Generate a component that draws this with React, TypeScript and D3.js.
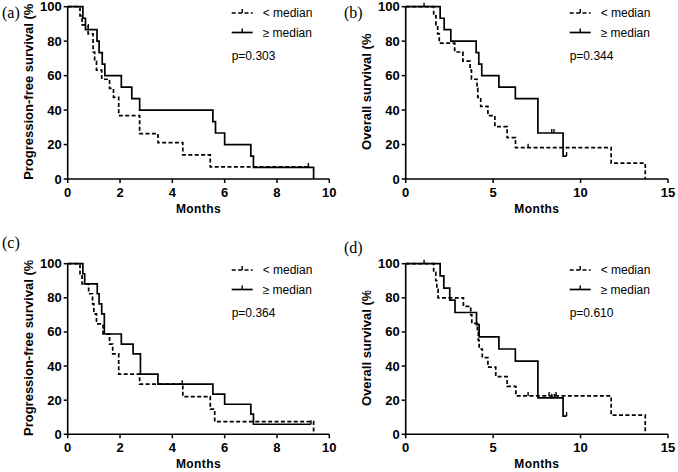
import React from "react";
import * as d3 from "d3";

// ---- Data: [months, survival % after the step] ----
const aBelow: [number, number][] = [[0,100],[0.47,94.7],[0.55,89.5],[0.78,84.2],[0.97,73.7],[1.03,68.4],[1.1,63.2],[1.3,57.9],[1.6,52.6],[1.75,47.4],[1.95,36.8],[2.75,26.3],[3.45,21.1],[4.4,14.0],[5.45,7.0],[9.2,7.0]];
const aAbove: [number, number][] = [[0,100],[0.58,93.3],[0.68,86.7],[1.12,80],[1.2,73.3],[1.32,66.7],[1.42,60],[2.05,53.3],[2.45,46.7],[2.75,40],[5.55,33.3],[5.65,26.7],[6.0,20],[7.0,13.3],[7.1,6.7],[9.4,0]];
const aBelowCensor: number[] = [9.2];
const aAboveCensor: number[] = [];

const bBelow: [number, number][] = [[0,100],[1.6,94.7],[1.73,89.5],[1.83,84.2],[1.92,78.9],[2.8,73.7],[3.27,68.4],[3.68,63.2],[3.76,57.9],[4.08,52.6],[4.12,47.4],[4.29,42.1],[4.7,36.8],[5.1,30.4],[5.8,24.0],[6.28,18.2],[11.75,9.2],[13.7,0]];
const bAbove: [number, number][] = [[0,100],[1.97,93.3],[2.2,86.7],[2.58,80],[4.03,73.3],[4.18,66.7],[4.35,60],[5.33,53.3],[6.27,46.7],[7.56,26.7],[9.0,13.3],[9.2,13.3]];
const bBelowCensor: number[] = [7.0];
const bAboveCensor: number[] = [1.05, 8.35, 8.48, 9.2];

const cBelow: [number, number][] = [[0,100],[0.47,94.1],[0.55,88.2],[0.8,82.4],[0.95,76.5],[1.0,70.6],[1.1,64.7],[1.35,58.8],[1.6,52.9],[1.72,47.1],[1.95,35.3],[2.75,29.4],[4.4,22.1],[5.45,14.7],[5.62,7.4],[9.4,0]];
const cAbove: [number, number][] = [[0,100],[0.58,94.1],[0.65,88.2],[1.13,82.4],[1.2,76.5],[1.3,70.6],[1.4,58.8],[2.05,52.9],[2.5,47.1],[2.78,35.3],[3.45,29.4],[5.55,23.5],[6.0,17.6],[7.0,11.8],[7.1,5.9],[9.3,5.9]];
const cBelowCensor: number[] = [4.38];
const cAboveCensor: number[] = [9.3];

const dBelow: [number, number][] = [[0,100],[1.6,95],[1.72,90],[1.78,85],[1.85,80],[3.3,75],[3.72,70],[3.78,65],[4.1,60],[4.15,55],[4.2,50],[4.38,45],[4.7,39.4],[5.15,33.8],[5.8,28.1],[6.3,22.5],[11.75,11.2],[13.7,0]];
const dAbove: [number, number][] = [[0,100],[1.97,92.9],[2.18,85.7],[2.52,78.6],[2.82,71.4],[4.05,64.3],[4.2,57.1],[5.33,50],[6.27,42.9],[7.56,21.4],[9.0,10.7],[9.2,10.7]];
const dBelowCensor: number[] = [7.0, 8.2, 8.6];
const dAboveCensor: number[] = [1.05, 8.35, 8.5, 9.2];

const panelLabels = ["(a)", "(b)", "(c)", "(d)"];
const yTitles = ["Progression-free survival (%)", "Overall survival (%)", "Progression-free survival (%)", "Overall survival (%)"];
const pValues = ["p=0.303", "p=0.344", "p=0.364", "p=0.610"];
const xMaxes = [10, 15, 10, 15];
const xTickSets = [[0, 2, 4, 6, 8, 10], [0, 5, 10, 15], [0, 2, 4, 6, 8, 10], [0, 5, 10, 15]];
const yTicks = [0, 20, 40, 60, 80, 100];
const legendLabels = ["< median", "\u2265 median"];

const seriesBelow = [aBelow, bBelow, cBelow, dBelow];
const seriesAbove = [aAbove, bAbove, cAbove, dAbove];
const censorBelow = [aBelowCensor, bBelowCensor, cBelowCensor, dBelowCensor];
const censorAbove = [aAboveCensor, bAboveCensor, cAboveCensor, dAboveCensor];

// ---- Layout ----
const layouts = [
  { left: 67.7, right: 329.3, top: 6.7, bottom: 179, lx: 2, ly: 17.5 },
  { left: 405.7, right: 668, top: 6.7, bottom: 179, lx: 344, ly: 17.5 },
  { left: 67.7, right: 329.3, top: 263.7, bottom: 434.3, lx: 2, ly: 248 },
  { left: 405.7, right: 668, top: 263.7, bottom: 434.3, lx: 344, ly: 252.5 },
];

const SANS = "'Liberation Sans', Arial, sans-serif";
const SERIF = "'Liberation Serif', 'Times New Roman', serif";
const DASH = "4,2.4";

function valueAt(series: [number, number][], t: number) {
  let v = series[0][1];
  for (const [x, y] of series) {
    if (x <= t) v = y;
  }
  return v;
}

function Panel({ i }: { i: number }) {
  const L = layouts[i];
  const x = d3.scaleLinear().domain([0, xMaxes[i]]).range([L.left, L.right]);
  const y = d3.scaleLinear().domain([0, 100]).range([L.bottom, L.top]);
  const line = d3
    .line<[number, number]>()
    .x((d) => x(d[0]))
    .y((d) => y(d[1]))
    .curve(d3.curveStepAfter);
  const isOS = i % 2 === 1;
  const cy = (L.top + L.bottom) / 2 - 3.3;
  const tx = L.left - 39.2;
  const clipTop = isOS ? L.top + 27 : L.top - 3.1;
  const clipId = `yclip${i}`;
  const sw = 1.7;
  return (
    <g>
      <defs>
        <clipPath id={clipId}>
          <rect x={tx - 20} y={clipTop} width={40} height={L.bottom - clipTop + 20} />
        </clipPath>
      </defs>
      <text x={L.lx} y={L.ly} fontFamily={SERIF} fontSize={16}>
        {panelLabels[i]}
      </text>
      {/* axes */}
      <line x1={L.left} x2={L.left} y1={L.top} y2={L.bottom} stroke="#000" strokeWidth={1.6} />
      <line x1={L.left} x2={L.right} y1={L.bottom} y2={L.bottom} stroke="#000" strokeWidth={1.6} />
      {yTicks.map((t) => (
        <g key={"y" + t}>
          <line x1={L.left - 4} x2={L.left} y1={y(t)} y2={y(t)} stroke="#000" strokeWidth={1.5} />
          <text x={L.left - 6} y={y(t)} textAnchor="end" dominantBaseline="central" fontFamily={SANS} fontWeight="bold" fontSize={13}>
            {t}
          </text>
        </g>
      ))}
      {xTickSets[i].map((t) => (
        <g key={"x" + t}>
          <line x1={x(t)} x2={x(t)} y1={L.bottom} y2={L.bottom + 4} stroke="#000" strokeWidth={1.5} />
          <text x={x(t)} y={L.bottom + 13.5} textAnchor="middle" dominantBaseline="central" fontFamily={SANS} fontWeight="bold" fontSize={13}>
            {t}
          </text>
        </g>
      ))}
      <text x={(L.left + L.right) / 2} y={L.bottom + 33.5} textAnchor="middle" fontFamily={SANS} fontWeight="bold" fontSize={12} letterSpacing={0.4}>
        Months
      </text>
      <g clipPath={`url(#${clipId})`}>
        <text
          transform={`translate(${tx},${cy}) rotate(-90)`}
          textAnchor="middle"
          dominantBaseline="central"
          fontFamily={SANS}
          fontWeight="bold"
          fontSize={13}
        >
          {yTitles[i]}
        </text>
      </g>
      {/* curves */}
      <path d={line(seriesBelow[i]) || ""} fill="none" stroke="#000" strokeWidth={sw} strokeDasharray={DASH} />
      <path d={line(seriesAbove[i]) || ""} fill="none" stroke="#000" strokeWidth={sw} />
      {censorBelow[i].map((t, k) => (
        <line key={"cb" + k} x1={x(t)} x2={x(t)} y1={y(valueAt(seriesBelow[i], t))} y2={y(valueAt(seriesBelow[i], t)) - 4} stroke="#000" strokeWidth={1.4} />
      ))}
      {censorAbove[i].map((t, k) => (
        <line key={"ca" + k} x1={x(t)} x2={x(t)} y1={y(valueAt(seriesAbove[i], t))} y2={y(valueAt(seriesAbove[i], t)) - 4} stroke="#000" strokeWidth={1.4} />
      ))}
      {/* legend */}
      {legendLabels.map((lab, k) => {
        const ly = L.top + (k === 0 ? 6.3 : 25.8);
        const x1 = L.left + 164;
        const x2 = L.left + 185;
        return (
          <g key={"lg" + k}>
            <line x1={x1} x2={x2} y1={ly} y2={ly} stroke="#000" strokeWidth={sw} strokeDasharray={k === 0 ? DASH : undefined} />
            <line x1={(x1 + x2) / 2} x2={(x1 + x2) / 2} y1={ly} y2={ly - 4} stroke="#000" strokeWidth={1.4} />
            <text x={L.left + 195} y={ly} dominantBaseline="central" fontFamily={SANS} fontSize={12}>
              {lab}
            </text>
          </g>
        );
      })}
      <text x={L.left + 164} y={L.top + 49.5} dominantBaseline="central" fontFamily={SANS} fontSize={12}>
        {pValues[i]}
      </text>
    </g>
  );
}

export default function App() {
  return (
    <svg
      width={678}
      height={472}
      viewBox="0 0 678 472"
      style={{ position: "absolute", left: 0, top: 0, background: "#fff" }}
    >
      <rect x={0} y={0} width={678} height={472} fill="#fff" />
      {[0, 1, 2, 3].map((i) => (
        <Panel key={i} i={i} />
      ))}
    </svg>
  );
}
